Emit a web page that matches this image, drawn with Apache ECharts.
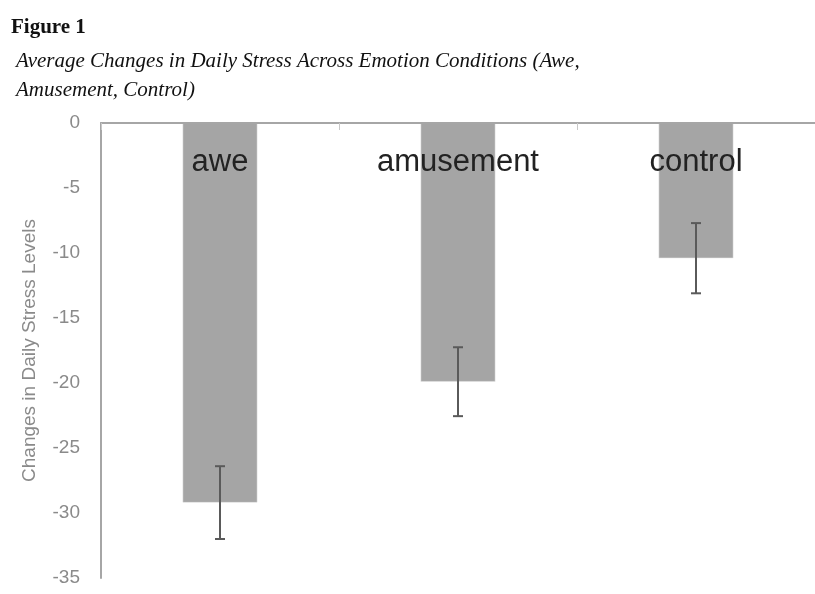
<!DOCTYPE html>
<html>
<head>
<meta charset="utf-8">
<script src="https://cdn.jsdelivr.net/npm/echarts@6/dist/echarts.min.js"></script>
<style>
  html, body { margin: 0; padding: 0; background: #fff; }
  #chart { width: 815px; height: 594px; }
</style>
</head>
<body>
<div id="chart"></div>
<script>
const conditions = ["awe", "amusement", "control"];
const stressChange = [-29.2, -19.9, -10.4];
const stressError = [2.8, 2.65, 2.7];
const yTicks = { min: -35, max: 0, step: 5 };

const chart = echarts.init(document.getElementById("chart"));

const errorData = conditions.map((c, i) => [
  i,
  stressChange[i] - stressError[i],
  stressChange[i] + stressError[i],
]);

chart.setOption({
  animation: false,
  title: [
    {
      text: "Figure 1",
      left: 6,
      top: 12,
      textStyle: {
        fontFamily: "Liberation Serif",
        fontWeight: "bold",
        fontSize: 21,
        color: "#111",
      },
    },
    {
      text: "Average Changes in Daily Stress Across Emotion Conditions (Awe,\nAmusement, Control)",
      left: 11,
      top: 42,
      textStyle: {
        fontFamily: "Liberation Serif",
        fontStyle: "italic",
        fontWeight: "normal",
        fontSize: 21,
        lineHeight: 29,
        color: "#111",
      },
    },
  ],
  grid: { left: 101, right: 0, top: 123, bottom: 16 },
  xAxis: {
    type: "category",
    data: conditions,
    position: "top",
    axisLine: { lineStyle: { color: "#a6a6a6", width: 2 } },
    axisTick: { show: true, inside: true, length: 7, lineStyle: { color: "#c8c8c8" } },
    axisLabel: {
      inside: true,
      margin: 24,
      fontFamily: "Liberation Sans",
      fontSize: 31,
      color: "#222",
    },
    z: 10,
  },
  yAxis: {
    type: "value",
    min: yTicks.min,
    max: yTicks.max,
    interval: yTicks.step,
    name: "Changes in Daily Stress Levels",
    nameLocation: "middle",
    nameGap: 62,
    nameTextStyle: { fontFamily: "Liberation Sans", fontSize: 19, color: "#8a8a8a" },
    axisLine: { show: true, lineStyle: { color: "#a6a6a6", width: 2 } },
    axisTick: { show: false },
    splitLine: { show: false },
    axisLabel: { margin: 21, fontFamily: "Liberation Sans", fontSize: 19, color: "#8a8a8a" },
  },
  series: [
    {
      type: "bar",
      data: stressChange,
      barWidth: "31.4%",
      itemStyle: { color: "#a5a5a5", borderColor: "#e6e6e6", borderWidth: 0.5 },
      z: 2,
    },
    {
      type: "custom",
      data: errorData,
      z: 5,
      renderItem: (params, api) => {
        const x = api.value(0);
        const lo = api.coord([x, api.value(1)]);
        const hi = api.coord([x, api.value(2)]);
        const cap = 5;
        const style = { stroke: "#5a5a5a", lineWidth: 2 };
        return {
          type: "group",
          children: [
            { type: "line", shape: { x1: lo[0], y1: lo[1], x2: hi[0], y2: hi[1] }, style },
            { type: "line", shape: { x1: lo[0] - cap, y1: lo[1], x2: lo[0] + cap, y2: lo[1] }, style },
            { type: "line", shape: { x1: hi[0] - cap, y1: hi[1], x2: hi[0] + cap, y2: hi[1] }, style },
          ],
        };
      },
    },
  ],
});
</script>
</body>
</html>
